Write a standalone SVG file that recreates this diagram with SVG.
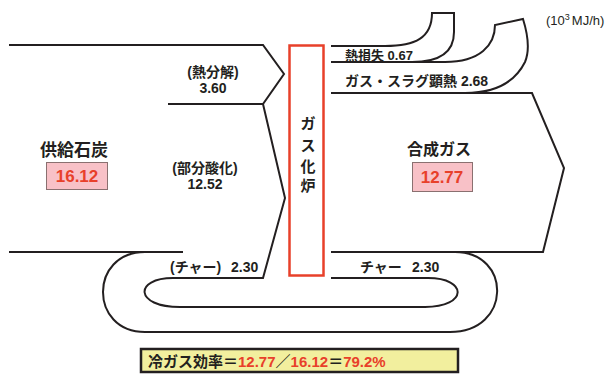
<svg xmlns="http://www.w3.org/2000/svg" width="607" height="374" viewBox="0 0 607 374">
<style>
.ln{fill:none;stroke:#231f20;stroke-width:2;stroke-linejoin:miter}
.t{font-family:"Liberation Sans","Noto Sans CJK JP",sans-serif;font-weight:bold;fill:#231f20}
.r{fill:#e8402a}
.vb{fill:#f8c1c7;stroke:#8a7070;stroke-width:1}
</style>
<rect width="607" height="374" fill="#fff"/>
<g id="connectors">
  <path class="ln" d="M9,45 H263 L284,74 L263,104 H168"/>
  <path class="ln" d="M263,104 L285,198 L263,278 H173 C134,278 134,307 180,307 H425 C468,307 468,278 428,278 H331"/>
  <path class="ln" d="M9,252 H183"/>
  <path class="ln" d="M145,252 C89,252 89,332 145,332 H450 C512,332 512,252 455,252 H331"/>
  <path class="ln" d="M455,252 H543 L564,168 L532,93 H331"/>
  <path class="ln" d="M331,46 H385 C415,46 432,38 432,13"/>
  <path class="ln" d="M431,13 H455" stroke-width="3"/>
  <path class="ln" d="M454,13 V32 C454,52 440,62 412,62"/>
  <path class="ln" d="M331,62 H445 C480,62 495,45 495,25 L523,19 C528,35 530,50 525,62 C515,82 495,93 465,93"/>
</g>
<g id="furnace">
  <rect x="289.5" y="45.5" width="34" height="230" fill="none" stroke="#e8402a" stroke-width="2.5"/>
  <text class="t" font-size="15" text-anchor="middle" x="308" y="129">ガ</text>
  <text class="t" font-size="15" text-anchor="middle" x="308" y="151">ス</text>
  <text class="t" font-size="15" text-anchor="middle" x="308" y="172">化</text>
  <text class="t" font-size="15" text-anchor="middle" x="308" y="191">炉</text>
</g>
<g id="coal">
  <text class="t" font-size="17" text-anchor="middle" x="74" y="156">供給石炭</text>
  <rect class="vb" x="46.5" y="162.5" width="61" height="27"/>
  <text class="t r" font-size="17" text-anchor="middle" x="77" y="182">16.12</text>
</g>
<g id="syngas">
  <text class="t" font-size="16" text-anchor="middle" x="439" y="155">合成ガス</text>
  <rect class="vb" x="412.5" y="162.5" width="60" height="29"/>
  <text class="t r" font-size="17" text-anchor="middle" x="442" y="183">12.77</text>
</g>
<g id="labels">
  <text class="t" font-size="14" text-anchor="middle" x="213" y="77">(熱分解)</text>
  <text class="t" font-size="14" text-anchor="middle" x="213" y="93">3.60</text>
  <text class="t" font-size="14" text-anchor="middle" x="205" y="173">(部分酸化)</text>
  <text class="t" font-size="14" text-anchor="middle" x="205" y="189">12.52</text>
  <text class="t" font-size="14" x="170" y="272">(チャー)</text>
  <text class="t" font-size="14" x="231" y="272">2.30</text>
  <text class="t" font-size="14" x="360" y="272">チャー</text>
  <text class="t" font-size="14" x="412" y="272">2.30</text>
  <text class="t" font-size="13" x="345" y="60">熱損失 0.67</text>
  <text class="t" font-size="14" x="345" y="86">ガス・スラグ顕熱 2.68</text>
  <text font-family="Liberation Sans, sans-serif" font-size="13" fill="#231f20" x="546" y="25">(10<tspan font-size="9" dy="-5">3</tspan><tspan dy="5" dx="2">MJ/h)</tspan></text>
</g>
<g id="efficiency">
  <rect x="141" y="349" width="317" height="23" fill="#f2ef9e" stroke="#231f20" stroke-width="2.5"/>
  <text class="t" font-size="15" x="148" y="367">冷ガス効率＝<tspan class="r">12.77</tspan>／<tspan class="r">16.12</tspan>＝<tspan class="r">79.2%</tspan></text>
</g>
</svg>
